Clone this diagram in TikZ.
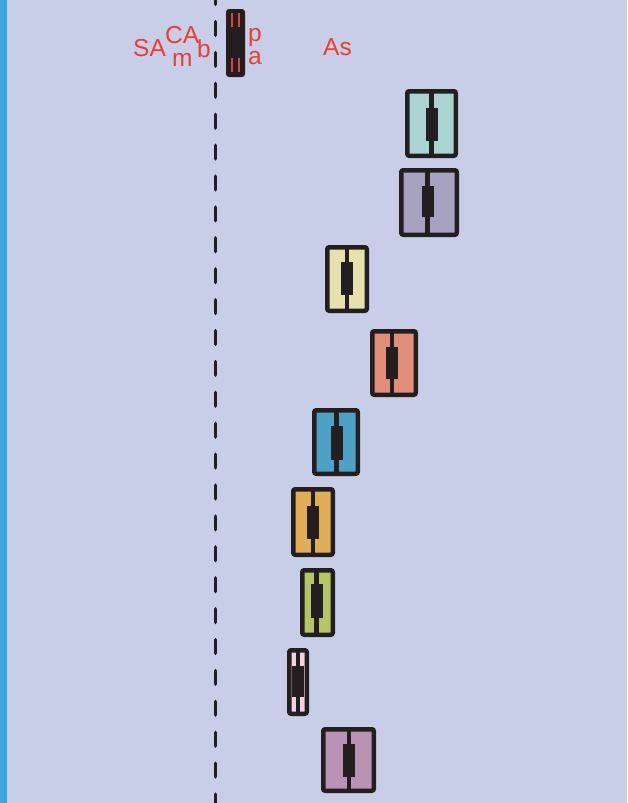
\documentclass[tikz,border=0pt]{standalone}
\usepackage{fontspec}
\setmainfont{Liberation Sans}
\definecolor{bg}{HTML}{C9CEE8}
\definecolor{stripe}{HTML}{3BA9DD}
\definecolor{ink}{HTML}{231F20}
\definecolor{lab}{HTML}{E8402C}
\definecolor{cteal}{HTML}{A9D4D1}
\definecolor{cpurp}{HTML}{A8A2C2}
\definecolor{cyell}{HTML}{E6E1AD}
\definecolor{csalm}{HTML}{E38E7B}
\definecolor{cblue}{HTML}{4EA1C6}
\definecolor{coran}{HTML}{E2AE55}
\definecolor{cgree}{HTML}{B4C663}
\definecolor{cpink}{HTML}{F2D4DE}
\definecolor{cmauv}{HTML}{BA93B4}
\tikzset{
  car/.style={draw=ink, line width=4.5pt, rounded corners=2pt, inner sep=0pt},
  core/.style={fill=ink, draw=none, inner sep=0pt, minimum width=12pt},
  midline/.style={draw=ink, line width=4.5pt},
  lbl/.style={text=lab, inner sep=0pt, anchor=base west, font=\fontsize{24.5}{24.5}\selectfont},
  redmark/.style={draw=lab, line width=2.2pt},
  lane/.style={draw=ink, line width=3.8pt, line cap=round, dash pattern=on 13.5pt off 17.4pt}
}
\newcommand\carbox[9]{%
  \node[car, fill=#6, minimum width=#4pt-4.5pt, minimum height=#5pt-4.5pt] (#1) at (#2,#3) {};
  \coordinate (#1t) at (#7,#3-#5/2+2);
  \coordinate (#1b) at (#7,#3+#5/2-2);
  \draw[midline] (#1t) -- (#1b);
  \node[core, minimum height=#9pt] (#1c) at (#7,#8) {};
}
\begin{document}
\begin{tikzpicture}[x=1pt,y=-1pt]
\useasboundingbox (0,0) rectangle (627,803);
\fill[bg] (0,0) rectangle (627,803);
\fill[stripe] (0,0) rectangle (7,803);
\begin{scope}
\clip (0,0) rectangle (627,803);
\coordinate (dtop) at (215.5,-9.15);
\coordinate (dbot) at (215.5,815);
\draw[lane] (dtop) -- (dbot);
\end{scope}
% top small vehicle
\node[fill=ink, rounded corners=3pt, inner sep=0pt, minimum width=19pt, minimum height=68pt] (pa) at (235.5,43) {};
\draw[redmark] ([shift={(-3.8,-30)}]pa.center) -- ++(0,14);
\draw[redmark] ([shift={(3.5,-30)}]pa.center) -- ++(0,14);
\draw[redmark] ([shift={(-3.8,15)}]pa.center) -- ++(0,14);
\draw[redmark] ([shift={(3.5,15)}]pa.center) -- ++(0,14);
% labels
\node[lbl] (tSA) at (133,56) {SA};
\node[lbl] (tCA) at (165,43) {CA};
\node[lbl] (tm) at (172,66) {m};
\node[lbl] (tb) at (197,57) {b};
\node[lbl] (tp) at (248,41) {p};
\node[lbl] (ta) at (248,64) {a};
\node[lbl] (tAs) at (323,55) {As};
% boxes
\carbox{b1}{431.5}{123.5}{53}{69}{cteal}{431.7}{124.5}{33}
\carbox{b2}{429}{202.5}{60}{69}{cpurp}{427.5}{201.5}{31}
\carbox{b3}{347}{279}{44}{68}{cyell}{347}{278.5}{33}
\carbox{b4}{394}{363}{48}{68}{csalm}{392}{363}{32}
\carbox{b5}{336}{442}{48}{68}{cblue}{336.5}{443}{34}
\carbox{b6}{313}{522}{44}{70}{coran}{313}{522.5}{33}
\carbox{b7}{317.5}{602.5}{35}{69}{cgree}{316.5}{601}{34}
\carbox{b8}{298}{682}{22}{68}{cpink}{298}{681.5}{31}
\carbox{b9}{348.5}{760}{55}{66}{cmauv}{349}{760.5}{33}
\end{tikzpicture}
\end{document}
